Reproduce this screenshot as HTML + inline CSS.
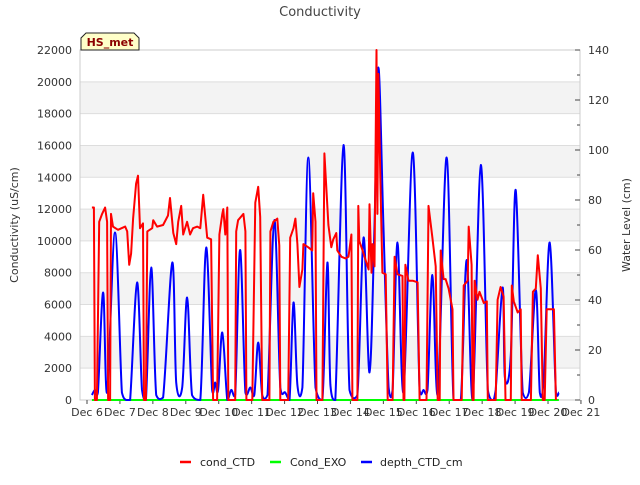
<!DOCTYPE html>
<html><head><meta charset="utf-8"><style>
body{margin:0;background:#fff;}
svg text{font-family:"DejaVu Sans","Liberation Sans",sans-serif;}
</style></head><body>
<svg id="chart" width="640" height="480" xmlns="http://www.w3.org/2000/svg">
<rect width="640" height="480" fill="#fff"/>
<text x="320" y="16" text-anchor="middle" font-size="13" fill="#444">Conductivity</text>
<g id="bands"></g><g id="grid"></g>
<rect x="80" y="50" width="500" height="350" fill="none" stroke="#ccc"/>
<g id="axes"></g>
<g id="series"></g>
<g>
<path d="M81,50 L81,38 L86,33 L134,33 L139,38 L139,50 Z" fill="#ffffc8" stroke="#222"/>
<text x="110" y="46" text-anchor="middle" font-size="11" font-weight="bold" fill="#8b0000">HS_met</text>
</g>
<text transform="translate(18,225) rotate(-90)" text-anchor="middle" font-size="11" fill="#333">Conductivity (uS/cm)</text>
<text transform="translate(630,225) rotate(-90)" text-anchor="middle" font-size="11" fill="#333">Water Level (cm)</text>
<g font-size="11" fill="#222">
<g><line x1="180" y1="462" x2="191" y2="462" stroke="#f00" stroke-width="2.5"/><text x="200" y="466">cond_CTD</text></g>
<g><line x1="270" y1="462" x2="281" y2="462" stroke="#0f0" stroke-width="2.5"/><text x="290" y="466">Cond_EXO</text></g>
<g><line x1="361" y1="462" x2="372" y2="462" stroke="#00f" stroke-width="2.5"/><text x="380" y="466">depth_CTD_cm</text></g>
</g>
</svg>
<script>
const xTickLabels=["Dec 6","Dec 7","Dec 8","Dec 9","Dec 10","Dec 11","Dec 12","Dec 13","Dec 14","Dec 15","Dec 16","Dec 17","Dec 18","Dec 19","Dec 20","Dec 21"];
const xTickDays=[6,7,8,9,10,11,12,13,14,15,16,17,18,19,20,21];
const leftTicks=[0,2000,4000,6000,8000,10000,12000,14000,16000,18000,20000,22000];
const rightTicks=[0,20,40,60,80,100,120,140];
const depthT=[6.15,6.24,6.33,6.49,6.61,6.85,7.06,7.19,7.31,7.52,7.67,7.79,7.95,8.10,8.31,8.59,8.71,8.89,9.04,9.19,9.44,9.62,9.80,9.89,9.98,10.11,10.26,10.38,10.50,10.65,10.81,10.96,11.08,11.20,11.32,11.48,11.69,11.87,12.02,12.15,12.27,12.39,12.54,12.72,12.94,13.15,13.30,13.39,13.54,13.79,13.97,14.21,14.40,14.58,14.73,14.85,15.00,15.16,15.28,15.43,15.61,15.89,16.10,16.22,16.34,16.49,16.65,16.92,17.13,17.35,17.53,17.71,17.96,18.17,18.32,18.41,18.62,18.69,18.87,19.02,19.23,19.42,19.63,19.75,19.87,20.05,20.24,20.33];
const depthV=[2,4,3,43,3,67,3,0,0,47,4,0,53,2,1,55,7,5,41,2,0,61,4,7,4,27,0,4,2,60,3,5,2,23,2,2,72,5,3,0,39,6,5,97,5,0,55,6,0,102,4,2,65,11,70,133,70,5,4,63,3,99,4,4,4,50,2,97,0,0,56,0,94,4,0,4,45,9,18,84,3,3,44,3,8,63,3,3];
const condT=[6.15,6.21,6.24,6.30,6.37,6.46,6.55,6.61,6.64,6.70,6.73,6.79,6.94,7.16,7.22,7.28,7.34,7.40,7.49,7.55,7.61,7.70,7.73,7.79,7.83,7.98,8.01,8.13,8.31,8.46,8.52,8.62,8.71,8.77,8.86,8.92,9.04,9.13,9.22,9.35,9.44,9.53,9.65,9.77,9.83,9.95,10.02,10.11,10.14,10.20,10.26,10.29,10.50,10.53,10.59,10.75,10.81,10.84,11.02,11.11,11.20,11.26,11.32,11.54,11.57,11.66,11.78,11.84,11.87,12.11,12.17,12.27,12.33,12.39,12.45,12.54,12.57,12.72,12.84,12.87,12.94,12.97,13.15,13.21,13.33,13.42,13.48,13.57,13.60,13.73,13.85,13.94,14.03,14.06,14.21,14.24,14.27,14.37,14.46,14.55,14.58,14.64,14.67,14.73,14.79,14.82,14.85,14.91,14.97,15.07,15.13,15.28,15.34,15.43,15.58,15.61,15.64,15.67,15.76,15.89,16.04,16.10,16.31,16.37,16.49,16.59,16.65,16.71,16.74,16.83,16.89,16.98,17.10,17.13,17.38,17.44,17.56,17.59,17.68,17.71,17.74,17.77,17.86,17.92,18.05,18.14,18.17,18.41,18.47,18.56,18.65,18.71,18.87,18.90,18.96,19.08,19.17,19.20,19.48,19.54,19.63,19.69,19.78,19.84,19.90,19.96,20.18,20.24];
const condV=[12100,12100,0,0,11200,11700,12100,11200,0,0,11700,10900,10700,10900,10600,8500,9200,11400,13600,14100,10800,11100,0,0,10600,10800,11300,10900,11000,11600,12700,10500,9800,11200,12200,10400,11200,10400,10800,10900,10800,12900,10200,10100,0,0,10400,11700,12000,10400,12100,0,0,10600,11300,11700,10600,0,0,12400,13400,11500,0,0,10600,11200,11400,9700,0,0,10200,10800,11400,9800,7100,8200,9800,9600,9400,13000,11200,0,0,15500,11000,9600,10100,10500,9400,9000,8900,9000,10400,0,0,12200,10000,9400,8800,8200,12300,8000,9800,8400,22000,11700,20500,13700,8000,7900,0,0,9000,7900,7800,0,0,8500,7500,7500,7400,0,0,12200,10200,8400,0,0,9400,7600,7600,7000,5700,0,0,7200,7500,10900,8500,0,0,7500,6300,6800,6100,6200,0,0,6300,7100,6500,0,0,7200,6200,5500,5700,0,0,6800,7000,9100,7000,0,0,5700,5700,0];
const exoT=[6.15,20.33];
const exoV=[0,0];

const NS="http://www.w3.org/2000/svg";
const X0=80,X1=580,Y0=400,Y1=50;
const xS=d=>87+(d-6)*32.93;
const yL=v=>Y0-(v/22000)*(Y0-Y1);
const yR=v=>Y0-(v/140)*(Y0-Y1);
function mk(tag,attrs,parent){const e=document.createElementNS(NS,tag);for(const k in attrs)e.setAttribute(k,attrs[k]);parent.appendChild(e);return e;}
const bands=document.getElementById('bands'),grid=document.getElementById('grid'),axes=document.getElementById('axes'),series=document.getElementById('series');
for(let i=1;i<leftTicks.length-1;i+=2){
  const b=mk('rect',{x:X0,y:yL(leftTicks[i+1]),width:X1-X0,height:yL(leftTicks[i])-yL(leftTicks[i+1]),fill:'#f3f3f3'},bands);
  
  
}
leftTicks.forEach(v=>{
  const l=mk('line',{x1:X0,x2:X1,y1:yL(v),y2:yL(v),stroke:'#ddd'},grid);
  
  
  const t=mk('text',{x:72,y:yL(v)+4,'text-anchor':'end','font-size':11,fill:'#333'},axes);
  
  
  t.textContent=v;
});
for(let v=0;v<=140;v+=10){
  const l=mk('line',{x1:X1,x2:X1-(v%20?3:5),y1:yR(v),y2:yR(v),stroke:'#444'},axes);
  
  
}
rightTicks.forEach(v=>{
  const t=mk('text',{x:588,y:yR(v)+4,'font-size':11,fill:'#333'},axes);
  
  
  t.textContent=v;
});
xTickDays.forEach((d,i)=>{
  const l=mk('line',{x1:xS(d),x2:xS(d),y1:Y0,y2:Y0+4,stroke:'#444'},axes);
  
  
  const t=mk('text',{x:xS(d),y:416,'text-anchor':'middle','font-size':11,fill:'#333'},axes);
  
  
  t.textContent=xTickLabels[i];
});
function line(ts,vs,ys,color,name){
  const p=mk('polyline',{points:ts.map((t,i)=>xS(t).toFixed(1)+','+ys(vs[i]).toFixed(1)).join(' '),fill:'none',stroke:color,'stroke-width':2,'stroke-linejoin':'round'},series);
  
  
}
function smooth(ts,vs,ys,color,name){
  const P=ts.map((t,i)=>[xS(t),ys(vs[i])]);
  let d='M'+P[0][0].toFixed(1)+','+P[0][1].toFixed(1);
  for(let i=0;i<P.length-1;i++){
    const p0=P[Math.max(0,i-1)],p1=P[i],p2=P[i+1],p3=P[Math.min(P.length-1,i+2)];
    const c1x=p1[0]+(p2[0]-p0[0])/6,c1y=Math.min(Y0,Math.max(Y1,p1[1]+(p2[1]-p0[1])/6));
    const c2x=p2[0]-(p3[0]-p1[0])/6,c2y=Math.min(Y0,Math.max(Y1,p2[1]-(p3[1]-p1[1])/6));
    d+=' C'+c1x.toFixed(1)+','+c1y.toFixed(1)+' '+c2x.toFixed(1)+','+c2y.toFixed(1)+' '+p2[0].toFixed(1)+','+p2[1].toFixed(1);
  }
  const p=mk('path',{d:d,fill:'none',stroke:color,'stroke-width':2,'stroke-linejoin':'round'},series);
  
  
}
line(exoT,exoV,yL,'#0f0','cond-exo-line');
smooth(depthT,depthV,yR,'#00f','depth-ctd-line');
line(condT,condV,yL,'#f00','cond-ctd-line');
</script>
</body></html>
